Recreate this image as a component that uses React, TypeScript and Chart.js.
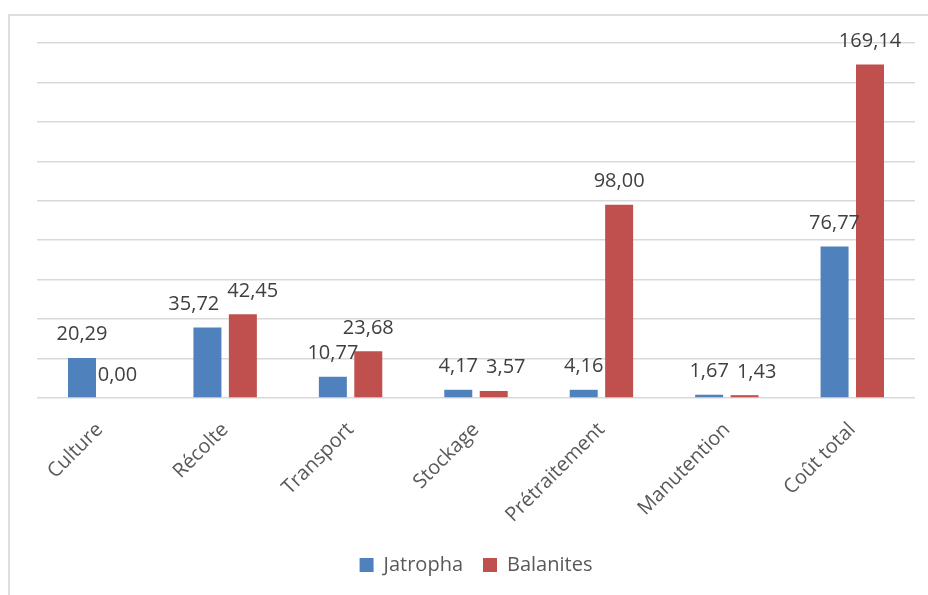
import React, { useEffect, useRef } from "react";
import { Chart, registerables } from "chart.js";

Chart.register(...registerables);

const categories = ["Culture", "Récolte", "Transport", "Stockage", "Prétraitement", "Manutention", "Coût total"];
const jatropha = [20.29, 35.72, 10.77, 4.17, 4.16, 1.67, 76.77];
const balanites = [0.0, 42.45, 23.68, 3.57, 98.0, 1.43, 169.14];
const seriesNames = ["Jatropha", "Balanites"];
const yMin = 0;
const yMax = 180;
const yStep = 20;

const FONT = "'Open Sans', sans-serif";
const BLUE = "#4F81BD";
const RED = "#C0504D";

const fmt = (v: number) => v.toFixed(2).replace(".", ",");

const labelPlugin = {
  id: "barLabels",
  afterDatasetsDraw(chart: any) {
    const ctx = chart.ctx;
    const m0 = chart.getDatasetMeta(0);
    const m1 = chart.getDatasetMeta(1);
    ctx.save();
    ctx.font = `20px ${FONT}`;
    ctx.fillStyle = "#404040";
    ctx.textAlign = "center";
    ctx.textBaseline = "alphabetic";
    const lift = 17.5;
    const textH = 15;
    const gap = 8;
    categories.forEach((_, i) => {
      const b0 = m0.data[i];
      const b1 = m1.data[i];
      const t0 = fmt(jatropha[i]);
      const t1 = fmt(balanites[i]);
      let x0 = b0.x;
      let x1 = b1.x;
      const y0 = b0.y - lift;
      const y1 = b1.y - lift;
      const w0 = ctx.measureText(t0).width;
      const w1 = ctx.measureText(t1).width;
      if (Math.abs(y0 - y1) < textH) {
        const need = (w0 + w1) / 2 + gap - (x1 - x0);
        if (need > 0) {
          if (jatropha[i] < balanites[i]) {
            x0 -= need * 0.58;
            x1 += need * 0.42;
          } else {
            x1 += need;
          }
        }
      }
      ctx.fillText(t0, x0, y0);
      ctx.fillText(t1, x1, y1);
    });
    ctx.restore();
  },
};

export default function App() {
  const canvasRef = useRef<HTMLCanvasElement | null>(null);

  useEffect(() => {
    if (!canvasRef.current) return;
    const chart = new Chart(canvasRef.current, {
      type: "bar",
      data: {
        labels: categories,
        datasets: [
          {
            label: seriesNames[0],
            data: jatropha,
            backgroundColor: BLUE,
            categoryPercentage: 0.565,
            barPercentage: 0.79,
          },
          {
            label: seriesNames[1],
            data: balanites,
            backgroundColor: RED,
            categoryPercentage: 0.565,
            barPercentage: 0.79,
          },
        ],
      },
      options: {
        animation: false,
        responsive: true,
        maintainAspectRatio: false,
        layout: { padding: { left: 27, right: 13, top: 27, bottom: 10 } },
        plugins: {
          tooltip: { enabled: false },
          legend: {
            position: "bottom",
            labels: {
              boxWidth: 14,
              boxHeight: 14,
              padding: 20,
              color: "#595959",
              font: { family: FONT, size: 20 },
            },
          },
        },
        scales: {
          x: {
            grid: { display: false, drawTicks: false },
            border: { display: false },
            ticks: {
              autoSkip: false,
              maxRotation: 45,
              minRotation: 45,
              padding: 20,
              color: "#595959",
              font: { family: FONT, size: 20 },
            },
            afterFit: (s: any) => {
              s.height = 137;
            },
          },
          y: {
            min: yMin,
            max: yMax,
            ticks: { display: false, stepSize: yStep },
            grid: { color: "#d9d9d9", lineWidth: 1.5, drawTicks: false },
            border: { display: false },
          },
        },
      },
      plugins: [labelPlugin],
    });
    return () => chart.destroy();
  }, []);

  return (
    <div style={{ position: "fixed", left: 0, top: 0, width: "100vw", height: "100vh", overflow: "hidden", background: "#fff" }}>
      <div
        style={{
          position: "absolute",
          left: 8,
          top: 14,
          width: 940,
          height: 600,
          border: "2px solid #dedede",
          boxSizing: "border-box",
        }}
      >
        <div style={{ position: "relative", width: 918, height: 579 }}>
          <canvas ref={canvasRef} />
        </div>
      </div>
    </div>
  );
}
